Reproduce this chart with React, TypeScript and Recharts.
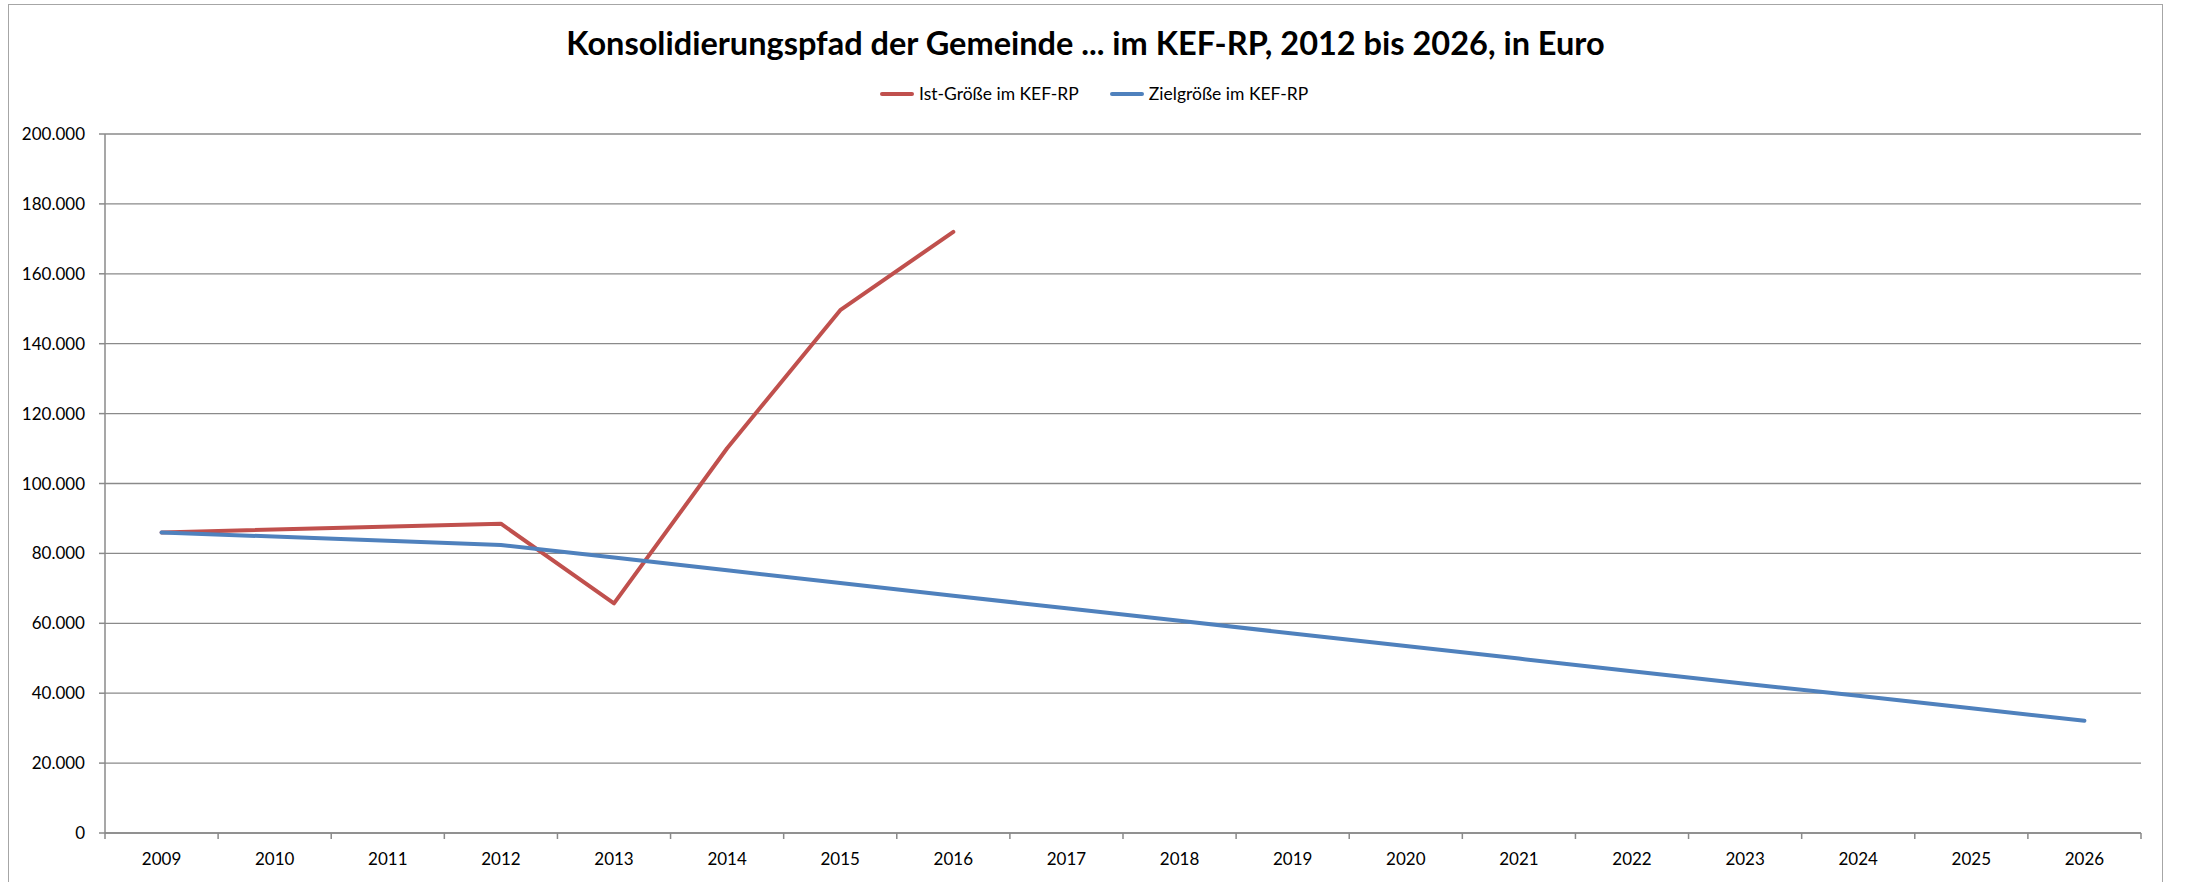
import { LineChart, Line, XAxis, YAxis, CartesianGrid, Legend } from 'recharts';

const years = [
  '2009', '2010', '2011', '2012', '2013', '2014', '2015', '2016', '2017',
  '2018', '2019', '2020', '2021', '2022', '2023', '2024', '2025', '2026',
];

// Ist-Größe im KEF-RP (no values after 2016)
const istValues = [
  86000, null, null, 88500, 65700, 110100, 149600, 172000, null,
  null, null, null, null, null, null, null, null, null,
];

// Zielgröße im KEF-RP
const zielValues = [
  86000, null, null, 82400, 78800, 75200, 71500, 67900, 64300,
  60700, 57100, 53500, 49900, 46300, 42700, 39300, 35700, 32100,
];

const yTicks = [0, 20000, 40000, 60000, 80000, 100000, 120000, 140000, 160000, 180000, 200000];

const series = [
  { key: 'ist', name: 'Ist-Größe im KEF-RP', color: '#C0504D' },
  { key: 'ziel', name: 'Zielgröße im KEF-RP', color: '#4F81BD' },
];

const data = years.map((year, i) => ({ idx: i, year, ist: istValues[i], ziel: zielValues[i] }));

const W = 2185;
const H = 882;
const MARGIN = { top: 134, right: 44, bottom: 19, left: 0 };
const Y_AXIS_W = 105;
const TICK_SIZE = 6;
const TICK_MARGIN = 14;
const AXIS_COLOR = '#8a8a8a';
const FONT = 'Lato, "Open Sans", sans-serif';
const STEP = (W - MARGIN.right - MARGIN.left - Y_AXIS_W) / years.length;

const formatDe = (v: number) => String(v).replace(/\B(?=(\d{3})+(?!\d))/g, '.');

function YearTick(props: any) {
  const { x, y, payload } = props;
  const axisY = y - TICK_SIZE - TICK_MARGIN;
  const isLast = payload.value === years.length - 1;
  return (
    <g>
      <line x1={x - STEP / 2} x2={x - STEP / 2} y1={axisY} y2={axisY + TICK_SIZE} stroke={AXIS_COLOR} strokeWidth={1.5} />
      {isLast && (
        <line x1={x + STEP / 2} x2={x + STEP / 2} y1={axisY} y2={axisY + TICK_SIZE} stroke={AXIS_COLOR} strokeWidth={1.5} />
      )}
      <text x={x} y={y} dy="0.71em" textAnchor="middle" fontSize={17} fontFamily={FONT} fill="#000">
        {years[payload.value]}
      </text>
    </g>
  );
}

function LegendContent() {
  return (
    <div style={{ display: 'flex', alignItems: 'center', fontFamily: FONT, fontSize: 17.5, color: '#000' }}>
      {series.map((s, i) => (
        <div key={s.key} style={{ display: 'flex', alignItems: 'center', marginLeft: i === 0 ? 0 : 31 }}>
          <svg width={34} height={8} style={{ marginRight: 5 }}>
            <line x1={2} x2={32} y1={4} y2={4} stroke={s.color} strokeWidth={4} strokeLinecap="round" />
          </svg>
          <span>{s.name}</span>
        </div>
      ))}
    </div>
  );
}

export default function App() {
  return (
    <div style={{ position: 'absolute', left: 0, top: 0, width: W, height: H, background: '#fff', overflow: 'hidden' }}>
      <div
        style={{
          position: 'absolute',
          left: 8,
          top: 4,
          width: 2155,
          height: 900,
          border: '1.5px solid #a6a6a6',
          boxSizing: 'border-box',
        }}
      />
      <div
        style={{
          position: 'absolute',
          left: 8,
          width: 2155,
          top: 22,
          textAlign: 'center',
          fontFamily: FONT,
          fontWeight: 700,
          fontSize: 32.5,
          lineHeight: '42px',
          color: '#000',
        }}
      >
        Konsolidierungspfad der Gemeinde ... im KEF-RP, 2012 bis 2026, in Euro
      </div>
      <LineChart width={W} height={H} data={data} margin={MARGIN} style={{ position: 'absolute', left: 0, top: 0 }}>
        <CartesianGrid vertical={false} stroke={AXIS_COLOR} strokeWidth={1.3} />
        <XAxis
          dataKey="idx"
          type="number"
          domain={[-0.5, years.length - 0.5]}
          ticks={years.map((_, i) => i)}
          interval={0}
          height={30}
          tickSize={TICK_SIZE}
          tickMargin={TICK_MARGIN}
          tickLine={false}
          axisLine={{ stroke: AXIS_COLOR, strokeWidth: 1.5 }}
          tick={<YearTick />}
        />
        <YAxis
          width={Y_AXIS_W}
          domain={[0, 200000]}
          ticks={yTicks}
          interval={0}
          tickFormatter={formatDe}
          tickSize={TICK_SIZE}
          tickMargin={TICK_MARGIN}
          tickLine={{ stroke: AXIS_COLOR, strokeWidth: 1.5 }}
          axisLine={{ stroke: AXIS_COLOR, strokeWidth: 1.5 }}
          tick={{ fontSize: 17, fontFamily: FONT, fill: '#000' }}
        />
        <Legend
          layout="horizontal"
          verticalAlign="middle"
          align="center"
          wrapperStyle={{ top: 83, left: 880, width: 'auto' }}
          content={<LegendContent />}
        />
        {series.map((s) => (
          <Line
            key={s.key}
            dataKey={s.key}
            name={s.name}
            stroke={s.color}
            strokeWidth={4}
            strokeLinecap="round"
            strokeLinejoin="round"
            dot={false}
            activeDot={false}
            connectNulls
            isAnimationActive={false}
          />
        ))}
      </LineChart>
    </div>
  );
}
